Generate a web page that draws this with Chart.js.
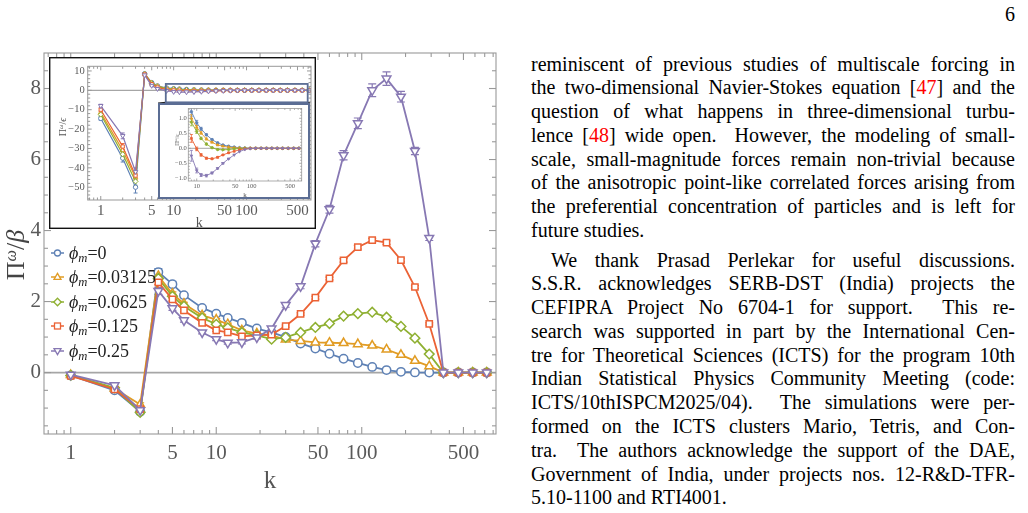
<!DOCTYPE html>
<html>
<head>
<meta charset="utf-8">
<title>Π^ω/β versus k</title>
<script src="https://cdn.jsdelivr.net/npm/chart.js@4.4.1/dist/chart.umd.min.js"></script>
<style>
html,body{margin:0;padding:0;background:#fff;}
body{position:relative;width:1028px;height:513px;overflow:hidden;font-family:"Liberation Serif","Times New Roman",serif;color:#000;}
canvas{display:block;}
#mainCanvas{position:absolute;left:0;top:0;}
#insetCanvas{position:absolute;left:49px;top:57px;background:#fff;}
#zoomCanvas{position:absolute;left:158px;top:103px;background:#fff;}
.rot{position:absolute;white-space:nowrap;transform:translate(-50%,-50%) rotate(-90deg);line-height:1;}
.rot sup{font-size:0.62em;vertical-align:0.5em;line-height:0;font-style:italic;}
#ytitle{left:16px;top:255px;font-size:26px;color:#444;}
#ytitle2{left:63px;top:127px;font-size:10px;color:#555;}
#ytitle3{left:177px;top:140px;font-size:6px;color:#555;}
.row{position:absolute;left:51px;height:24px;line-height:24px;white-space:nowrap;font-size:18px;color:#222;}
.row svg{position:absolute;left:0;top:6px;}
.row span{position:absolute;left:18px;top:0;}
.row sub{font-size:0.7em;vertical-align:-0.25em;line-height:0;font-style:italic;}
.txt{position:absolute;left:531px;width:484px;font-size:20px;line-height:23.8px;}
.L{height:23.8px;white-space:nowrap;}
.ln{display:inline-block;white-space:pre;}
.ref{color:#f00;}
#pnum{position:absolute;left:985px;width:30px;top:3px;text-align:right;font-size:20px;line-height:23.8px;}
</style>
</head>
<body>
<canvas id="mainCanvas" width="510" height="513"></canvas>
<canvas id="insetCanvas" width="267" height="172"></canvas>
<canvas id="zoomCanvas" width="152" height="96"></canvas>
<div id="ytitle" class="rot">Π<sup>ω</sup>/<i>β</i></div>
<div id="ytitle2" class="rot">Π<sup>ω</sup>/<i>ϵ</i></div>
<div id="ytitle3" class="rot">Π<sup>ω</sup>/<i>ϵ</i></div>
<div id="legend"></div>

<div id="pnum">6</div>
<div class="txt" style="top:52.5px">
<div class="L"><span class="ln">reminiscent of previous studies of multiscale forcing in</span></div>
<div class="L"><span class="ln">the two-dimensional Navier-Stokes equation [<span class="ref">47</span>] and the</span></div>
<div class="L"><span class="ln">question of what happens in three-dimensional turbu-</span></div>
<div class="L"><span class="ln">lence [<span class="ref">48</span>] wide open.  However, the modeling of small-</span></div>
<div class="L"><span class="ln">scale, small-magnitude forces remain non-trivial because</span></div>
<div class="L"><span class="ln">of the anisotropic point-like correlated forces arising from</span></div>
<div class="L"><span class="ln">the preferential concentration of particles and is left for</span></div>
<div class="L"><span class="ln" data-last="1">future studies.</span></div>
</div>
<div class="txt" style="top:248.5px">
<div class="L"><span class="ln" style="margin-left:20px">We thank Prasad Perlekar for useful discussions.</span></div>
<div class="L"><span class="ln">S.S.R. acknowledges SERB-DST (India) projects the</span></div>
<div class="L"><span class="ln">CEFIPRA Project No 6704-1 for support.  This re-</span></div>
<div class="L"><span class="ln">search was supported in part by the International Cen-</span></div>
<div class="L"><span class="ln">tre for Theoretical Sciences (ICTS) for the program 10th</span></div>
<div class="L"><span class="ln">Indian Statistical Physics Community Meeting (code:</span></div>
<div class="L"><span class="ln">ICTS/10thISPCM2025/04).  The simulations were per-</span></div>
<div class="L"><span class="ln">formed on the ICTS clusters Mario, Tetris, and Con-</span></div>
<div class="L"><span class="ln">tra.  The authors acknowledge the support of the DAE,</span></div>
<div class="L"><span class="ln">Government of India, under projects nos. 12-R&amp;D-TFR-</span></div>
<div class="L"><span class="ln" data-last="1">5.10-1100 and RTI4001.</span></div>
</div>

<script>
// ---------------- data ----------------
const kValues = [1,2,3,4,5,6,8,10,12,15,19,24,30,38,48,60,75,94,118,148,186,232,291,364,461,579,723];
const phiLabels = ['0','0.03125','0.0625','0.125','0.25'];

// main panel: Π^ω/β
const piBetaPhi0 = [-0.08,-0.50,-1.10,2.83,2.49,2.18,1.82,1.66,1.54,1.40,1.24,1.13,1.00,0.82,0.68,0.53,0.39,0.27,0.16,0.07,0.02,0.005,0,0,0,0,0];
const piBetaPhi1 = [-0.07,-0.45,-0.90,2.72,2.22,1.94,1.61,1.49,1.36,1.19,1.10,1.05,0.93,0.89,0.85,0.84,0.83,0.80,0.76,0.65,0.50,0.33,0.18,0,0,0,0];
const piBetaPhi2 = [-0.08,-0.43,-1.12,2.65,2.15,1.87,1.54,1.36,1.26,1.13,1.05,0.94,0.99,1.13,1.27,1.38,1.59,1.66,1.70,1.56,1.30,0.97,0.52,0,0,0,0];
const piBetaPhi3 = [-0.09,-0.47,-1.03,2.54,2.06,1.75,1.40,1.19,1.13,1.02,1.05,1.07,1.31,1.65,2.11,2.65,3.16,3.53,3.73,3.66,3.17,2.41,1.37,0,0,0,0];
const piBetaPhi4 = [-0.06,-0.36,-1.06,2.30,1.81,1.47,1.13,0.94,0.84,0.85,0.99,1.24,1.90,2.43,3.63,4.60,6.12,7.02,7.95,8.28,7.77,6.24,3.79,0,0,0,0];
const errBetaPhi0 = [0.02,0.04,0.05,0.10,0.08,0.05,0.04,0.03,0.03,0.03,0.03,0.03,0.02,0.02,0.02,0.02,0.02,0.01,0.01,0.01,0.01,0,0,0,0,0,0];
const errBetaPhi1 = [0.02,0.03,0.05,0.07,0.05,0.04,0.03,0.03,0.03,0.02,0.02,0.02,0.02,0.02,0.02,0.02,0.02,0.02,0.02,0.02,0.01,0.01,0.01,0,0,0,0];
const errBetaPhi2 = [0.02,0.03,0.05,0.06,0.05,0.04,0.03,0.03,0.03,0.02,0.02,0.02,0.02,0.02,0.03,0.03,0.03,0.03,0.03,0.03,0.03,0.02,0.02,0,0,0,0];
const errBetaPhi3 = [0.02,0.03,0.05,0.06,0.05,0.04,0.03,0.03,0.03,0.02,0.02,0.02,0.03,0.03,0.04,0.04,0.05,0.05,0.05,0.05,0.05,0.04,0.03,0,0,0,0];
const errBetaPhi4 = [0.02,0.05,0.06,0.10,0.06,0.05,0.04,0.04,0.04,0.04,0.04,0.05,0.06,0.07,0.09,0.11,0.13,0.15,0.18,0.19,0.15,0.10,0.07,0,0,0,0];

// inset panels: Π^ω/ϵ
const piEpsPhi0 = [-14.5,-35,-50,8.6,4.0,2.3,1.22,0.85,0.65,0.45,0.29,0.18,0.11,0.07,0.04,0.02,0.01,0,0,0,0,0,0,0,0,0,0];
const piEpsPhi1 = [-11.5,-31,-45,8.5,3.8,2.1,1.00,0.70,0.51,0.31,0.20,0.11,0.07,0.04,0.02,0.01,0,0,0,0,0,0,0,0,0,0,0];
const piEpsPhi2 = [-12.5,-33,-47,8.4,3.6,1.9,0.87,0.56,0.33,0.14,0.02,-0.04,-0.05,-0.04,-0.02,-0.01,0,0,0,0,0,0,0,0,0,0,0];
const piEpsPhi3 = [-10,-29,-44,8.2,3.2,1.5,0.33,-0.02,-0.22,-0.33,-0.35,-0.30,-0.22,-0.15,-0.10,-0.05,-0.02,0,0,0,0,0,0,0,0,0,0];
const piEpsPhi4 = [-8,-23.5,-42,7.8,2.4,0.8,-0.25,-0.74,-0.89,-0.91,-0.82,-0.67,-0.50,-0.35,-0.22,-0.11,-0.04,-0.01,0,0,0,0,0,0,0,0,0];
const errEpsPhi0 = [1.0,2.0,3.0,0.5,0.4,0.2,0.15,0.08,0.05,0.03,0.02,0.02,0.01,0.01,0.01,0,0,0,0,0,0,0,0,0,0,0,0];
const errEpsPhi1 = [0.8,1.5,2.0,0.5,0.3,0.2,0.12,0.06,0.04,0.03,0.02,0.02,0.01,0.01,0,0,0,0,0,0,0,0,0,0,0,0,0];
const errEpsPhi2 = [0.8,1.5,2.0,0.5,0.3,0.2,0.12,0.06,0.04,0.03,0.02,0.02,0.01,0.01,0,0,0,0,0,0,0,0,0,0,0,0,0];
const errEpsPhi3 = [0.8,1.5,2.0,0.5,0.3,0.2,0.13,0.06,0.04,0.03,0.02,0.02,0.01,0.01,0,0,0,0,0,0,0,0,0,0,0,0,0];
const errEpsPhi4 = [0.8,1.5,2.0,0.5,0.3,0.2,0.18,0.08,0.05,0.04,0.03,0.02,0.02,0.01,0,0,0,0,0,0,0,0,0,0,0,0,0];

// tick labels / tick marks
const mainXTicks = [1,5,10,50,100,500];
const mainXMinor = [0.7,0.8,0.9,2,3,4,6,7,8,9,20,30,40,60,70,80,90,200,300,400,600,700,800];
const mainYTicks = [0,2,4,6,8];
const mainYMinor = [-1.5,-1,-0.5,0.5,1,1.5,2.5,3,3.5,4.5,5,5.5,6.5,7,7.5,8.5];
const insetYTicks = [10,0,-10,-20,-30,-40,-50];
const insetYMinor = [12,8,6,4,2,-2,-4,-6,-8,-12,-14,-16,-18,-22,-24,-26,-28,-32,-34,-36,-38,-42,-44,-46,-48,-52,-54,-56];
const zoomXTicks = [10,50,100,500];
const zoomXMinor = [8,9,20,30,40,60,70,80,90,200,300,400,600,700,800];
const zoomYTicks = [1,0.5,0,-0.5,-1];
const zoomYMinor = [-0.9,-0.8,-0.7,-0.6,-0.4,-0.3,-0.2,-0.1,0.1,0.2,0.3,0.4,0.6,0.7,0.8,0.9,1.1,1.2,1.3];

// ---------------- style ----------------
const colors = ['#5e81b5','#e19c24','#8fb032','#eb6235','#8778b3'];
const pStyles = ['circle','triangle','rectRot','rect','triangle'];
const pRot = [0,0,0,0,180];
const pScale = [1,1.2,1.15,1.05,1.2];
const FONT = '"Liberation Serif","Times New Roman",serif';
const LABEL = '#5a5a5a';

Chart.defaults.font.family = FONT;
Chart.defaults.animation = false;

const frameTicks = {
  id:'frameTicks',
  beforeDatasetsDraw(chart, args, o){
    const {ctx, chartArea:a, scales:{y}} = chart;
    const py = y.getPixelForValue(0);
    ctx.save();
    ctx.strokeStyle = o.zeroColor; ctx.lineWidth = o.zeroWidth;
    ctx.beginPath(); ctx.moveTo(a.left, py); ctx.lineTo(a.right, py); ctx.stroke();
    ctx.restore();
  },
  afterDatasetsDraw(chart, args, o){
    const {ctx, chartArea:a, scales:{x,y}} = chart;
    ctx.save();
    ctx.strokeStyle = o.color; ctx.lineWidth = o.width;
    ctx.strokeRect(a.left, a.top, a.right-a.left, a.bottom-a.top);
    const seg=(x1,y1,x2,y2)=>{ctx.beginPath();ctx.moveTo(x1,y1);ctx.lineTo(x2,y2);ctx.stroke();};
    const dx=(vals,len)=>vals.forEach(v=>{const p=x.getPixelForValue(v); if(p<a.left-0.5||p>a.right+0.5) return; seg(p,a.bottom,p,a.bottom-len); seg(p,a.top,p,a.top+len);});
    const dy=(vals,len)=>vals.forEach(v=>{const p=y.getPixelForValue(v); if(p<a.top-0.5||p>a.bottom+0.5) return; seg(a.left,p,a.left+len,p); seg(a.right,p,a.right-len,p);});
    dx(o.xMajor,o.majorLen); dx(o.xMinor,o.minorLen);
    dy(o.yMajor,o.majorLen); dy(o.yMinor,o.minorLen);
    ctx.restore();
  },
  afterDraw(chart, args, o){
    if(!o.outer) return;
    const ctx = chart.ctx;
    ctx.save(); ctx.strokeStyle = o.outer.color; ctx.lineWidth = o.outer.width;
    const w = o.outer.width/2;
    ctx.strokeRect(w, w, chart.width-2*w, chart.height-2*w);
    ctx.restore();
  }
};

const errorBars = {
  id:'errorBars',
  beforeDatasetsDraw(chart, args, o){
    const {ctx, chartArea:a, scales:{y}} = chart;
    ctx.save();
    ctx.beginPath(); ctx.rect(a.left, a.top, a.right-a.left, a.bottom-a.top); ctx.clip();
    chart.data.datasets.forEach((ds,i)=>{
      if(!ds.errors) return;
      const meta = chart.getDatasetMeta(i);
      ctx.strokeStyle = ds.borderColor; ctx.lineWidth = o.width;
      meta.data.forEach((pt,j)=>{
        const e = ds.errors[j]; if(!e) return;
        const v = ds.data[j].y;
        const y1 = y.getPixelForValue(v+e), y2 = y.getPixelForValue(v-e);
        ctx.beginPath();
        ctx.moveTo(pt.x,y1); ctx.lineTo(pt.x,y2);
        ctx.moveTo(pt.x-o.cap,y1); ctx.lineTo(pt.x+o.cap,y1);
        ctx.moveTo(pt.x-o.cap,y2); ctx.lineTo(pt.x+o.cap,y2);
        ctx.stroke();
      });
    });
    ctx.restore();
  }
};

const zoomMarker = {
  id:'zoomMarker',
  afterDraw(chart, args, o){
    if(!o.show) return;
    const {ctx, scales:{x,y}} = chart;
    const l = x.getPixelForValue(o.k0), r = x.getPixelForValue(o.k1);
    const t = y.getPixelForValue(o.v0), b = y.getPixelForValue(o.v1);
    ctx.save();
    ctx.strokeStyle = '#222'; ctx.lineWidth = 1.2;
    ctx.beginPath(); ctx.moveTo(l,b); ctx.lineTo(o.tl,o.tt); ctx.moveTo(r,b); ctx.lineTo(o.tr,o.tt); ctx.stroke();
    ctx.strokeStyle = o.color; ctx.lineWidth = 1.8;
    ctx.strokeRect(l,t,r-l,b-t);
    ctx.restore();
  }
};

function buildSets(series, errs, opt, from){
  return series.map((vals,i)=>({
    label:'ϕm='+phiLabels[i],
    data:kValues.slice(from).map((k,j)=>({x:k, y:vals[j+from]})),
    errors:errs[i].slice(from),
    borderColor:colors[i],
    backgroundColor:colors[i],
    borderWidth:opt.lw,
    pointStyle:pStyles[i],
    pointRotation:pRot[i],
    pointRadius:opt.r*pScale[i],
    pointBorderWidth:opt.pbw,
    pointBackgroundColor:opt.fill ? colors[i] : '#fff',
    pointBorderColor:colors[i],
    tension:0,
    order:4-i
  }));
}

function axisX(min,max,ticks,height,fontSize,pad,titleSize,titlePad){
  return {
    type:'logarithmic', min, max,
    afterBuildTicks:s=>{ s.ticks = ticks.map(v=>({value:v})); },
    afterFit:s=>{ s.height = height; },
    grid:{display:false, drawTicks:false}, border:{display:false},
    ticks:{autoSkip:false, maxRotation:0, minRotation:0, padding:pad, color:LABEL, font:{family:FONT,size:fontSize}, callback:v=>String(v)},
    title:{display:true, text:'k', color:'#555', font:{family:FONT,size:titleSize}, padding:{top:0,bottom:titlePad}}
  };
}
function axisY(min,max,ticks,width,fontSize,pad,fmt){
  return {
    type:'linear', min, max,
    afterBuildTicks:s=>{ s.ticks = ticks.map(v=>({value:v})); },
    afterFit:s=>{ s.width = width; },
    grid:{display:false, drawTicks:false}, border:{display:false},
    ticks:{autoSkip:false, padding:pad, color:LABEL, font:{family:FONT,size:fontSize}, callback:fmt}
  };
}
const minusFmt = v => v<0 ? '\u2212'+(-v) : String(v);
const minusFmt1 = v => (v<0?'\u2212':'')+Math.abs(v).toFixed(1);

const mainSeries = [piBetaPhi0,piBetaPhi1,piBetaPhi2,piBetaPhi3,piBetaPhi4];
const mainErrs = [errBetaPhi0,errBetaPhi1,errBetaPhi2,errBetaPhi3,errBetaPhi4];
const epsSeries = [piEpsPhi0,piEpsPhi1,piEpsPhi2,piEpsPhi3,piEpsPhi4];
const epsErrs = [errEpsPhi0,errEpsPhi1,errEpsPhi2,errEpsPhi3,errEpsPhi4];

// main chart
new Chart(document.getElementById('mainCanvas'), {
  type:'line',
  data:{datasets:buildSets(mainSeries, mainErrs, {lw:1.8, r:4.2, pbw:1.5, fill:false}, 0)},
  options:{
    responsive:false, devicePixelRatio:1, events:[],
    layout:{padding:{top:53, right:14, left:0, bottom:0}},
    scales:{
      x:axisX(0.655, 837, mainXTicks, 79, 21, 7, 25, 17),
      y:axisY(-1.73, 9.0, mainYTicks, 44, 21, 3, v=>String(v))
    },
    plugins:{
      legend:{display:false}, tooltip:{enabled:false},
      frameTicks:{color:'#999', width:1.1, zeroColor:'#a6a6a6', zeroWidth:1.7, xMajor:mainXTicks, xMinor:mainXMinor, yMajor:mainYTicks, yMinor:mainYMinor, majorLen:7, minorLen:4},
      errorBars:{width:1.2, cap:4}
    }
  },
  plugins:[frameTicks, errorBars]
});

// inset chart
new Chart(document.getElementById('insetCanvas'), {
  type:'line',
  data:{datasets:buildSets(epsSeries, epsErrs, {lw:1.2, r:2.2, pbw:1, fill:false}, 0)},
  options:{
    responsive:false, devicePixelRatio:1, events:[],
    layout:{padding:{top:3.7, right:1.5, left:0, bottom:0}},
    scales:{
      x:axisX(0.662, 766, mainXTicks, 29, 15, 2, 14, -3),
      y:axisY(-56.6, 12.4, insetYTicks, 38.7, 10.5, 3, minusFmt)
    },
    plugins:{
      legend:{display:false}, tooltip:{enabled:false},
      frameTicks:{color:'#999', width:1, zeroColor:'#a6a6a6', zeroWidth:1.3, xMajor:mainXTicks, xMinor:mainXMinor, yMajor:insetYTicks, yMinor:insetYMinor, majorLen:4, minorLen:2.5, outer:{color:'#111', width:1.4}},
      errorBars:{width:1, cap:2},
      zoomMarker:{show:true, k0:7.8, k1:690, v0:3.3, v1:-6.2, color:'#5b6d94', tl:109, tr:261, tt:46}
    }
  },
  plugins:[frameTicks, errorBars, zoomMarker]
});

// zoomed sub-inset
new Chart(document.getElementById('zoomCanvas'), {
  type:'line',
  data:{datasets:buildSets(epsSeries, epsErrs, {lw:0.9, r:1.3, pbw:0.8, fill:true}, 6)},
  options:{
    responsive:false, devicePixelRatio:1, events:[],
    layout:{padding:{top:5.3, right:8.3, left:0, bottom:0}},
    scales:{
      x:axisX(7.03, 811, zoomXTicks, 18, 6.5, 1, 7, 0),
      y:axisY(-1.09, 1.33, zoomYTicks, 30.3, 6.5, 1.5, minusFmt1)
    },
    plugins:{
      legend:{display:false}, tooltip:{enabled:false},
      frameTicks:{color:'#999', width:0.8, zeroColor:'#a6a6a6', zeroWidth:1, xMajor:zoomXTicks, xMinor:zoomXMinor, yMajor:zoomYTicks, yMinor:zoomYMinor, majorLen:2.5, minorLen:1.5, outer:{color:'#5b6d94', width:2}},
      errorBars:{width:0.8, cap:1.5}
    }
  },
  plugins:[frameTicks, errorBars]
});

// legend (HTML, with subscripts)
(function(){
  const rowsY = [252.5, 277, 301.5, 326, 350.5];
  const shapes = [
    c=>`<circle cx="6.5" cy="6" r="3" fill="#fff" stroke="${c}" stroke-width="1.3"/>`,
    c=>`<polygon points="6.5,2.4 10,8.4 3,8.4" fill="#fff" stroke="${c}" stroke-width="1.3"/>`,
    c=>`<polygon points="6.5,2.2 10.2,6 6.5,9.8 2.8,6" fill="#fff" stroke="${c}" stroke-width="1.3"/>`,
    c=>`<rect x="3.5" y="3" width="6" height="6" fill="#fff" stroke="${c}" stroke-width="1.3"/>`,
    c=>`<polygon points="3,3.6 10,3.6 6.5,9.6" fill="#fff" stroke="${c}" stroke-width="1.3"/>`
  ];
  const lg = document.getElementById('legend');
  phiLabels.forEach((lab,i)=>{
    const d = document.createElement('div');
    d.className='row';
    d.style.top = (rowsY[i]-12)+'px';
    d.innerHTML = `<svg width="13" height="12"><line x1="0" y1="6" x2="13" y2="6" stroke="${colors[i]}" stroke-width="1.5"/>${shapes[i](colors[i])}</svg><span><i>ϕ</i><sub>m</sub>=${lab}</span>`;
    lg.appendChild(d);
  });
})();

// justify text lines with fixed breaks
document.querySelectorAll('.ln').forEach(el=>{
  if(el.dataset.last) return;
  const indent = parseFloat(el.style.marginLeft)||0;
  const target = 484 - indent;
  el.style.wordSpacing = '0px';
  const w = el.getBoundingClientRect().width;
  const n = (el.textContent.match(/ /g)||[]).length;
  if(n>0) el.style.wordSpacing = ((target - w)/n) + 'px';
});
</script>
</body>
</html>
